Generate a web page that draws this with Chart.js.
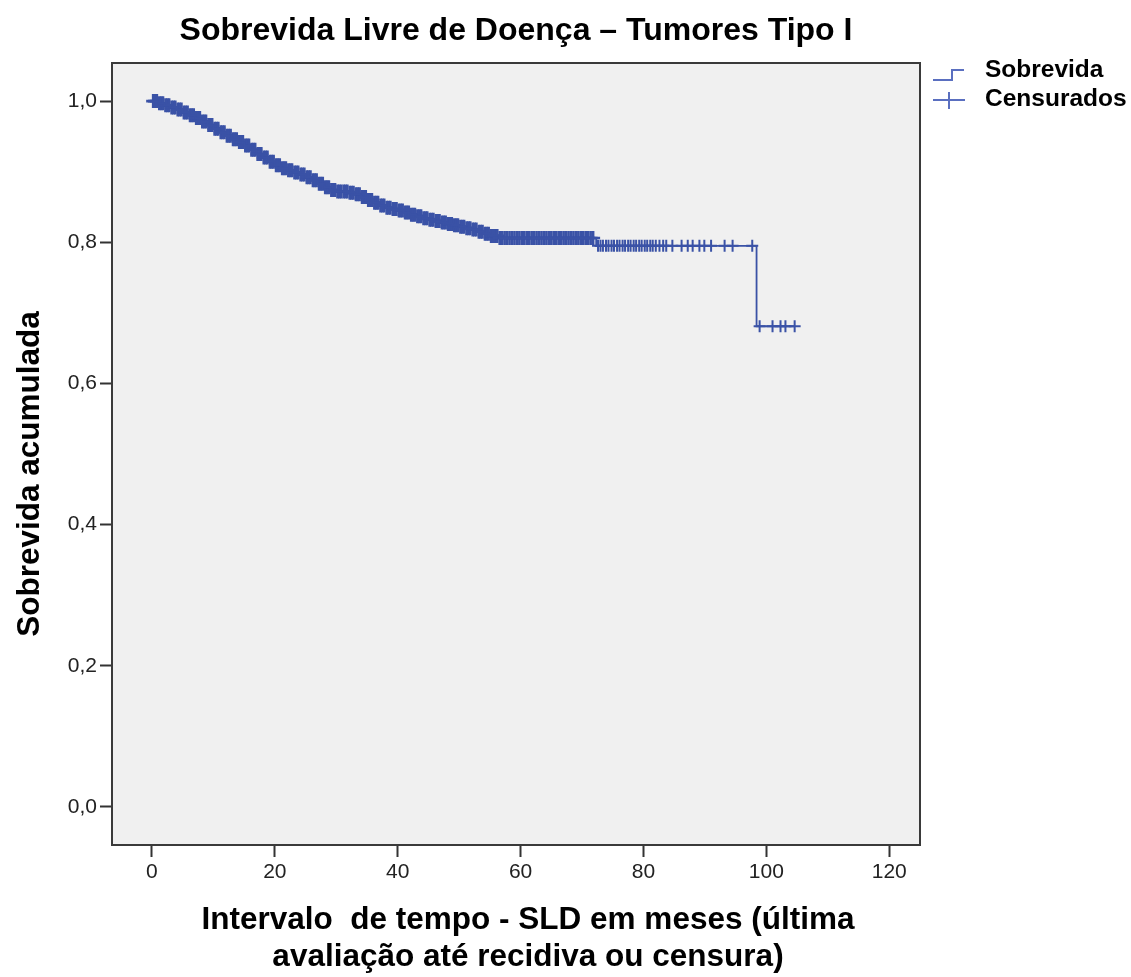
<!DOCTYPE html>
<html>
<head>
<meta charset="utf-8">
<script src="https://cdn.jsdelivr.net/npm/chart.js@4.4.0/dist/chart.umd.min.js"></script>
<style>
  html, body { margin: 0; padding: 0; background: #fff; }
  canvas { display: block; }
</style>
</head>
<body>
<canvas id="km" width="1131" height="977"></canvas>
<script>
// Kaplan-Meier steps (months, cumulative survival)
const eventTimes = [0, 1, 2, 3, 4, 5, 6, 7, 8, 9, 10, 11, 12, 13, 14, 15, 16, 17, 18, 19, 20,
  21, 22, 23, 24, 25, 26, 27, 28, 29, 30, 32, 33, 34, 35, 36, 37, 38, 39, 40, 41, 42, 43, 44,
  45, 46, 47, 48, 49, 50, 51, 52, 53, 54, 55, 56.5, 72.3, 98.4];
const survival = [1.0, 0.997, 0.994, 0.991, 0.988, 0.984, 0.980, 0.976, 0.971, 0.966, 0.961,
  0.956, 0.951, 0.946, 0.942, 0.937, 0.931, 0.925, 0.920, 0.914, 0.909, 0.905, 0.902, 0.899,
  0.896, 0.892, 0.888, 0.883, 0.878, 0.874, 0.872, 0.870, 0.868, 0.864, 0.860, 0.856, 0.852,
  0.849, 0.847, 0.845, 0.842, 0.839, 0.837, 0.834, 0.832, 0.830, 0.828, 0.826, 0.824, 0.822,
  0.820, 0.818, 0.815, 0.812, 0.809, 0.806, 0.795, 0.681];
const followUpEnd = 104.6;

// censored cases (the + marks), very dense up to ~84 months
const censoredTimes = [0.2, 0.5, 0.8, 1.2, 1.5, 1.8, 2.2, 2.5, 2.8, 3.2, 3.5, 3.8, 4.2, 4.5,
  4.8, 5.2, 5.5, 5.8, 6.2, 6.5, 6.8, 7.2, 7.5, 7.8, 8.2, 8.5, 8.8, 9.2, 9.5, 9.8, 10.2, 10.5,
  10.8, 11.2, 11.5, 11.8, 12.2, 12.5, 12.8, 13.2, 13.5, 13.8, 14.2, 14.5, 14.8, 15.2, 15.5,
  15.8, 16.2, 16.5, 16.8, 17.2, 17.5, 17.8, 18.2, 18.5, 18.8, 19.2, 19.5, 19.8, 20.2, 20.5,
  20.8, 21.2, 21.5, 21.8, 22.2, 22.5, 22.8, 23.2, 23.5, 23.8, 24.2, 24.5, 24.8, 25.2, 25.5,
  25.8, 26.2, 26.5, 26.8, 27.2, 27.5, 27.8, 28.2, 28.5, 28.8, 29.2, 29.5, 29.8, 30.2, 30.5,
  30.8, 31.2, 31.5, 31.8, 32.2, 32.5, 32.8, 33.2, 33.5, 33.8, 34.2, 34.5, 34.8, 35.2, 35.5,
  35.8, 36.2, 36.5, 36.8, 37.2, 37.5, 37.8, 38.2, 38.5, 38.8, 39.2, 39.5, 39.8, 40.2, 40.5,
  40.8, 41.2, 41.5, 41.8, 42.2, 42.5, 42.8, 43.2, 43.5, 43.8, 44.2, 44.5, 44.8, 45.2, 45.5,
  45.8, 46.2, 46.5, 46.8, 47.2, 47.5, 47.8, 48.2, 48.5, 48.8, 49.2, 49.5, 49.8, 50.2, 50.5,
  50.8, 51.2, 51.5, 51.8, 52.2, 52.5, 52.8, 53.2, 53.5, 53.8, 54.2, 54.5, 54.8, 55.2, 55.5,
  55.8, 56.2, 56.6, 57.0, 57.4, 57.8, 58.2, 58.6, 59.0, 59.4, 59.8, 60.2, 60.6, 61.0, 61.4,
  61.8, 62.2, 62.6, 63.0, 63.4, 63.8, 64.2, 64.6, 65.0, 65.4, 65.8, 66.2, 66.6, 67.0, 67.4,
  67.8, 68.2, 68.6, 69.0, 69.4, 69.8, 70.2, 70.6, 71.0, 71.4, 71.8, 72.6, 73.0, 73.4, 73.9,
  74.3, 74.8, 75.2, 75.7, 76.1, 76.6, 77.0, 77.5, 77.9, 78.4, 78.8, 79.3, 79.7, 80.2, 80.6,
  81.1, 81.5, 82.0, 82.6, 83.2, 83.7, 84.7, 86.2, 87.2, 88.0, 89.1, 89.9, 91.0, 93.2, 94.5,
  97.7, 98.9, 101.0, 102.3, 103.1, 104.6];

const xTicks = [0, 20, 40, 60, 80, 100, 120];
const yTicks = [0, 0.2, 0.4, 0.6, 0.8, 1.0];

const FONT = "'Liberation Sans', Arial, sans-serif";
const BLUE = '#3a52a6';

function survivalAt(t) {
  let s = survival[0];
  for (let i = 0; i < eventTimes.length; i++) {
    if (eventTimes[i] <= t) s = survival[i];
  }
  return s;
}

const curve = eventTimes.map((t, i) => ({ x: t, y: survival[i] }));
curve.push({ x: followUpEnd, y: survivalAt(followUpEnd) });
const censored = censoredTimes.map((t) => ({ x: t, y: survivalAt(t) }));

// background, frame, axis titles and legend
const decor = {
  id: 'decor',
  beforeDraw(chart) {
    const { ctx, chartArea: a } = chart;
    ctx.save();
    ctx.fillStyle = '#fff';
    ctx.fillRect(0, 0, chart.width, chart.height);
    ctx.fillStyle = '#f0f0f0';
    ctx.fillRect(a.left, a.top, a.right - a.left, a.bottom - a.top);
    ctx.restore();
  },
  afterDraw(chart) {
    const { ctx, chartArea: a } = chart;
    ctx.save();
    ctx.strokeStyle = '#3a3a3a';
    ctx.lineWidth = 2;
    ctx.strokeRect(a.left, a.top, a.right - a.left, a.bottom - a.top);

    ctx.fillStyle = '#000';
    ctx.font = 'bold 31.5px ' + FONT;
    ctx.textAlign = 'center';
    ctx.textBaseline = 'middle';
    ctx.fillText('Intervalo  de tempo - SLD em meses (última', 528, 920);
    ctx.fillText('avaliação até recidiva ou censura)', 528, 957);

    ctx.translate(30, 474);
    ctx.rotate(-Math.PI / 2);
    ctx.fillText('Sobrevida acumulada', 0, 0);
    ctx.restore();

    // legend
    ctx.save();
    ctx.strokeStyle = '#5a6fc0';
    ctx.lineWidth = 2;
    ctx.beginPath();
    ctx.moveTo(933, 80);
    ctx.lineTo(952, 80);
    ctx.lineTo(952, 70);
    ctx.lineTo(964, 70);
    ctx.moveTo(933, 100);
    ctx.lineTo(965, 100);
    ctx.moveTo(949, 92);
    ctx.lineTo(949, 109);
    ctx.stroke();
    ctx.fillStyle = '#000';
    ctx.font = 'bold 24.5px ' + FONT;
    ctx.textAlign = 'left';
    ctx.textBaseline = 'middle';
    ctx.fillText('Sobrevida', 985, 70);
    ctx.fillText('Censurados', 985, 99);
    ctx.restore();
  }
};

new Chart(document.getElementById('km'), {
  type: 'line',
  data: {
    datasets: [
      {
        label: 'Sobrevida',
        data: curve,
        stepped: true,
        borderColor: BLUE,
        borderWidth: 1.8,
        pointRadius: 0,
        fill: false,
      },
      {
        label: 'Censurados',
        data: censored,
        showLine: false,
        pointStyle: 'cross',
        pointRadius: (c) => (c.raw && c.raw.x < 72 ? 7 : 6),
        pointBorderWidth: (c) => (c.raw && c.raw.x < 72 ? 2.6 : 2),
        pointBorderColor: BLUE,
        pointBackgroundColor: BLUE,
      },
    ],
  },
  options: {
    responsive: false,
    animation: false,
    devicePixelRatio: 1,
    layout: { padding: { left: 0, right: 211, top: 0, bottom: 0 } },
    plugins: {
      legend: { display: false },
      tooltip: { enabled: false },
      title: {
        display: true,
        fullSize: false,
        text: 'Sobrevida Livre de Doença – Tumores Tipo I',
        color: '#000',
        font: { family: FONT, size: 32, weight: 'bold', lineHeight: 1.2 },
        padding: { top: 12, bottom: 12.6 },
      },
    },
    scales: {
      x: {
        type: 'linear',
        min: -6.5,
        max: 125,
        afterFit: (scale) => { scale.height = 132; },
        afterBuildTicks: (scale) => { scale.ticks = xTicks.map((v) => ({ value: v })); },
        grid: { display: true, drawOnChartArea: false, drawTicks: true, tickLength: 12, tickColor: '#333', tickWidth: 2 },
        border: { display: true, color: '#3a3a3a', width: 2 },
        ticks: { color: '#222', font: { family: FONT, size: 21 }, padding: 3, maxRotation: 0 },
      },
      y: {
        type: 'linear',
        min: -0.054,
        max: 1.054,
        afterFit: (scale) => { scale.width = 112; },
        afterBuildTicks: (scale) => { scale.ticks = yTicks.map((v) => ({ value: v })); },
        grid: { display: true, drawOnChartArea: false, drawTicks: true, tickLength: 12, tickColor: '#333', tickWidth: 2 },
        border: { display: true, color: '#3a3a3a', width: 2 },
        ticks: {
          color: '#222',
          font: { family: FONT, size: 21 },
          padding: 3,
          callback: (v) => v.toFixed(1).replace('.', ','),
        },
      },
    },
  },
  plugins: [decor],
});
</script>
</body>
</html>
